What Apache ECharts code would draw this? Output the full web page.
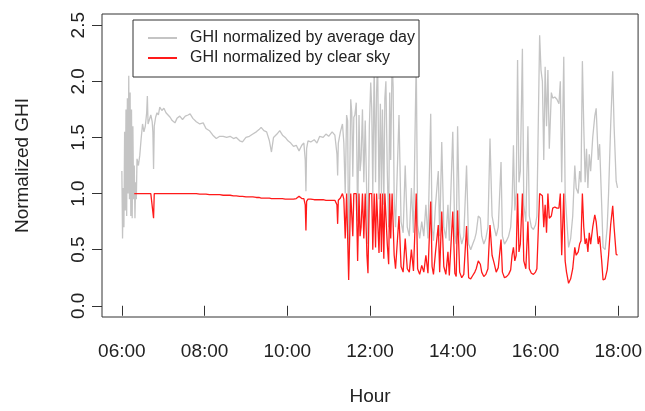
<!DOCTYPE html>
<html><head><meta charset="utf-8">
<script src="https://cdn.jsdelivr.net/npm/echarts@6/dist/echarts.min.js"></script>
<style>html,body{margin:0;padding:0;background:#fff}#c{width:645px;height:411px}</style>
</head><body><div id="c"></div>
<script>
// minutes after 06:00
const minutesAfter6 = [
  0,1,2,3,4,5,6,7,8,9,10,11,12,13,14,15,16,17,18,19,20,21,22,24,26,28,30,32,34,36,37,38,40,42,44,45,46,47,49,51,53,55,58,61,64,67,70,73,77,80,84,88,92,96,99,103,108,113,118,122,127,132,137,142,147,152,157,162,166,171,175,180,185,190,195,199,202,206,210,214,217,220,225,229,233,237,241,245,249,253,257,261,264,266,267,268,270,274,279,283,287,292,296,300,305,309,312,313,314,317,
  320,322,324,326,327.5,329,332,333.5,335,336.5,338,340,342,344,345.5,347,349,351,353,355.5,357,359,361,362.5,364,366,368,369.5,371,373,375,376.5,378,380,381.5,383,385,387,388.5,390,392,393.5,395,397,
  402,405,408,411,414,417,420,423,427,429,432,435,438,441,444,448,450,452,455,459,461,464,467,470,473,475,480,483,485,487,490,493,496,500,503,506,509,512,514,517,520,522,525,528,531,534,537,540,543,546,550,552,555,558,561,564,566,568,570,572,574,576,578,581,583,586,589,591,594,597,600,602,606,608,610,612,614,616,618,620,623,625,628,631,634,636,638,641,643,645,648,651,654,657,659,662,664,666,668,670,672,674,676,678,680,683,686,688,691,693,696,698,701,704,706,709,712,714,717,719];
const avgDay = [
  1.20,0.60,1.05,0.70,1.55,0.85,1.75,0.80,1.85,1.00,2.05,0.95,1.90,0.80,1.75,0.78,1.60,0.95,1.25,0.78,1.10,0.95,1.31,1.25,1.34,1.49,1.62,1.55,1.60,1.72,1.87,1.62,1.66,1.70,1.64,1.55,1.22,1.60,1.68,1.72,1.70,1.77,1.74,1.76,1.72,1.70,1.68,1.65,1.63,1.67,1.69,1.66,1.69,1.70,1.71,1.67,1.64,1.62,1.63,1.58,1.56,1.52,1.49,1.51,1.51,1.50,1.51,1.49,1.50,1.47,1.46,1.50,1.51,1.53,1.55,1.57,1.59,1.56,1.55,1.47,1.37,1.50,1.53,1.56,1.52,1.50,1.47,1.45,1.42,1.43,1.38,1.43,1.45,1.30,1.02,1.40,1.47,1.46,1.48,1.45,1.51,1.50,1.53,1.51,1.55,1.52,1.35,1.16,1.45,1.55,
  1.62,1.45,1.00,1.70,1.65,0.42,1.84,1.72,1.15,1.68,1.70,1.81,0.75,1.70,1.20,1.30,1.75,1.10,1.65,0.90,0.55,1.60,1.99,1.75,1.00,2.15,1.10,1.90,2.20,0.95,1.80,1.00,1.75,0.90,1.85,2.00,1.20,0.70,1.90,1.30,2.20,1.95,0.95,0.70,
  1.70,0.75,0.65,1.25,0.70,0.62,1.05,0.65,2.20,0.72,0.60,0.75,0.62,0.90,0.60,1.71,0.70,0.58,0.90,1.20,0.62,1.46,0.70,0.60,0.90,0.58,1.55,0.62,0.55,1.60,0.65,0.55,0.62,1.25,0.55,0.50,0.55,0.60,0.65,0.80,0.78,0.62,0.55,0.60,0.70,1.49,0.80,0.70,0.62,0.70,1.28,0.62,0.55,0.58,0.62,0.70,0.90,1.43,0.85,1.00,2.19,1.10,1.20,2.29,0.90,0.75,1.60,0.80,0.70,0.68,0.72,0.80,2.41,2.10,2.00,1.30,2.13,1.60,2.10,1.40,1.90,1.85,1.86,1.84,1.80,2.00,1.10,2.22,1.00,0.80,0.52,0.60,0.80,1.25,1.05,1.00,1.20,1.10,2.18,1.60,1.10,1.40,1.05,1.35,1.20,1.50,1.69,1.76,1.30,1.44,0.90,0.52,0.50,0.70,1.00,1.60,2.09,1.60,1.11,1.05];
const clearSky = [
  null,null,null,null,null,null,null,null,null,null,null,null,null,null,null,null,null,null,1.00,1.00,1.00,1.00,1.00,1.00,1.00,1.00,1.00,1.00,1.00,1.00,1.00,1.00,1.00,1.00,1.00,1.00,0.78,1.00,1.00,1.00,1.00,1.00,1.00,1.00,1.00,1.00,1.00,1.00,1.00,1.00,1.00,1.00,1.00,1.00,1.00,1.00,1.00,0.995,0.995,0.995,0.99,0.99,0.99,0.99,0.985,0.985,0.985,0.98,0.98,0.975,0.975,0.97,0.97,0.97,0.965,0.965,0.96,0.96,0.96,0.96,0.955,0.955,0.955,0.955,0.955,0.95,0.95,0.95,0.95,0.955,0.975,0.955,0.955,0.90,0.67,0.93,0.95,0.95,0.945,0.945,0.945,0.945,0.94,0.94,0.94,0.94,0.90,0.73,0.94,0.96,
  1.00,0.95,0.60,1.00,1.00,0.23,1.00,1.00,0.62,1.00,1.00,1.00,0.40,1.00,0.62,0.70,1.00,0.60,1.00,0.45,0.29,1.00,1.00,1.00,0.50,1.00,0.52,1.00,1.00,0.47,1.00,0.48,1.00,0.42,1.00,1.00,0.55,0.37,1.00,0.60,1.00,1.00,0.45,0.33,
  0.80,0.35,0.30,0.60,0.33,0.30,0.50,0.31,1.00,0.33,0.28,0.36,0.30,0.45,0.29,0.93,0.35,0.28,0.48,0.72,0.30,0.84,0.35,0.28,0.48,0.27,0.84,0.29,0.26,0.85,0.30,0.25,0.28,0.71,0.25,0.24,0.27,0.30,0.33,0.40,0.37,0.30,0.26,0.28,0.33,0.72,0.45,0.38,0.30,0.34,0.59,0.30,0.25,0.26,0.28,0.32,0.45,0.52,0.40,0.45,1.00,0.48,0.55,1.00,0.40,0.33,0.75,0.33,0.29,0.28,0.30,0.33,1.00,1.00,0.98,0.70,0.90,0.65,1.00,0.78,0.80,0.87,0.88,0.87,0.87,1.00,0.45,1.00,0.40,0.30,0.20,0.24,0.33,0.52,0.45,0.48,0.55,0.58,1.00,0.70,0.55,0.60,0.48,0.65,0.55,0.70,0.81,0.75,0.55,0.62,0.40,0.23,0.24,0.32,0.45,0.72,0.89,0.70,0.46,0.45];
const tickHours = [6, 8, 10, 12, 14, 16, 18];
const yTicks = [0, 0.5, 1, 1.5, 2, 2.5];
const seriesNames = ['GHI normalized by average day', 'GHI normalized by clear sky'];

const startMin = 6 * 60;
const grayData = minutesAfter6.map((t, i) => [startMin + t, avgDay[i]]);
const redData = [];
minutesAfter6.forEach((t, i) => { if (clearSky[i] != null) redData.push([startMin + t, clearSky[i]]); });
const xTicks = tickHours.map(h => h * 60);
const fam = '"Liberation Sans", Arial, Helvetica, sans-serif';
const txt = '#222';

const chart = echarts.init(document.getElementById('c'), null, {renderer: 'canvas'});
chart.setOption({
  animation: false,
  backgroundColor: '#fff',
  grid: {left: 102, right: 6, top: 14, bottom: 90, show: true, borderColor: '#333', borderWidth: 1, backgroundColor: 'transparent'},
  legend: {
    orient: 'vertical', left: 133, top: 20,
    padding: [10, 4, 11, 15], itemGap: 4,
    itemWidth: 29, itemHeight: 2,
    backgroundColor: '#fff', borderColor: '#333', borderWidth: 1, borderRadius: 0,
    textStyle: {fontFamily: fam, fontSize: 16, color: txt, padding: [0, 0, 0, 8], lineHeight: 16},
    data: [{name: seriesNames[0], icon: 'rect'}, {name: seriesNames[1], icon: 'rect'}]
  },
  xAxis: {
    type: 'value', min: 331.2, max: 1108.8,
    name: 'Hour', nameLocation: 'middle', nameGap: 70,
    nameTextStyle: {fontFamily: fam, fontSize: 19, color: txt},
    axisLine: {show: false},
    axisTick: {show: true, inside: false, length: 10, customValues: xTicks, lineStyle: {color: '#333'}},
    axisLabel: {customValues: xTicks, margin: 25, fontFamily: fam, fontSize: 19, color: txt,
      formatter: v => String(Math.floor(v / 60)).padStart(2, '0') + ':' + String(Math.round(v % 60)).padStart(2, '0')},
    splitLine: {show: false}
  },
  yAxis: {
    type: 'value', min: -0.1, max: 2.6,
    name: 'Normalized GHI', nameLocation: 'middle', nameGap: 70, nameRotate: 90,
    nameTextStyle: {fontFamily: fam, fontSize: 19, color: txt},
    axisLine: {show: false},
    axisTick: {show: true, inside: false, length: 10, customValues: yTicks, lineStyle: {color: '#333'}},
    axisLabel: {customValues: yTicks, rotate: 90, margin: 14, fontFamily: fam, fontSize: 19, color: txt,
      formatter: v => v.toFixed(1)},
    splitLine: {show: false}
  },
  series: [
    {name: seriesNames[0], type: 'line', data: grayData, showSymbol: false, symbol: 'none',
      lineStyle: {color: '#c4c4c4', width: 1.3}, itemStyle: {color: '#c4c4c4'}, z: 2},
    {name: seriesNames[1], type: 'line', data: redData, showSymbol: false, symbol: 'none',
      lineStyle: {color: '#ff1a1a', width: 1.3}, itemStyle: {color: '#ff1a1a'}, z: 3}
  ]
});
</script>
</body></html>
